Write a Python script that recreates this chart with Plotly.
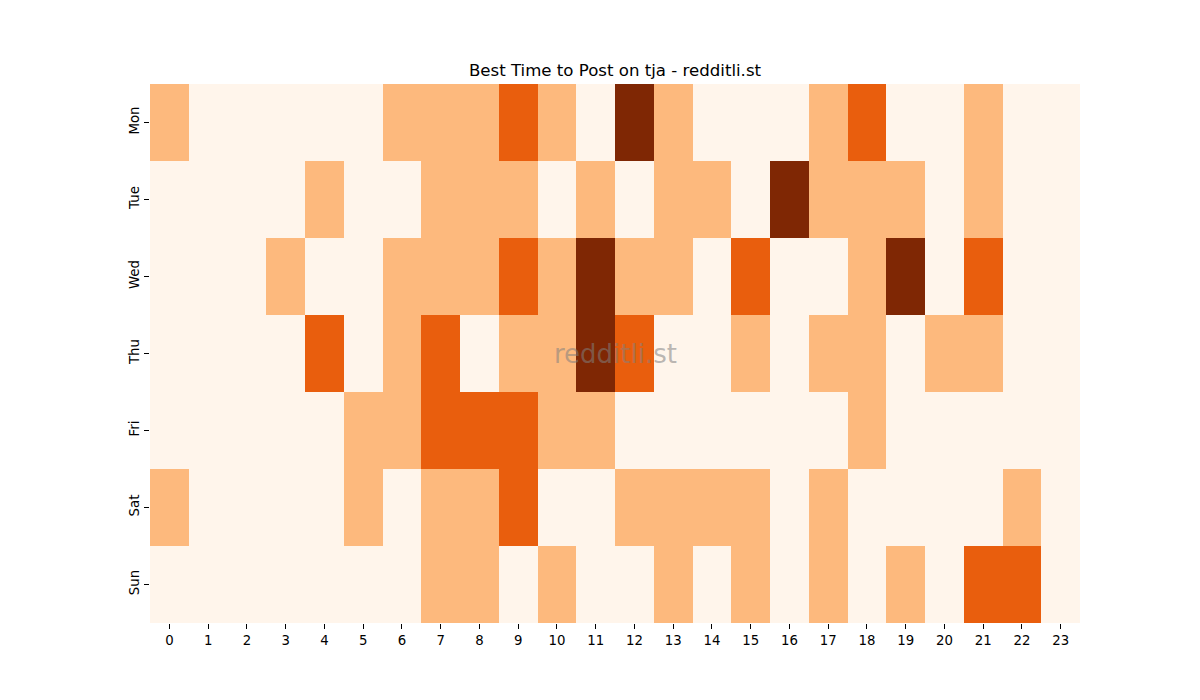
import plotly.graph_objects as go

days = ["Mon", "Tue", "Wed", "Thu", "Fri", "Sat", "Sun"]
hours = [str(h) for h in range(24)]

mon = [1,0,0,0,0,0,1,1,1,2,1,0,3,1,0,0,0,1,2,0,0,1,0,0]
tue = [0,0,0,0,1,0,0,1,1,1,0,1,0,1,1,0,3,1,1,1,0,1,0,0]
wed = [0,0,0,1,0,0,1,1,1,2,1,3,1,1,0,2,0,0,1,3,0,2,0,0]
thu = [0,0,0,0,2,0,1,2,0,1,1,3,2,0,0,1,0,1,1,0,1,1,0,0]
fri = [0,0,0,0,0,1,1,2,2,2,1,1,0,0,0,0,0,0,1,0,0,0,0,0]
sat = [1,0,0,0,0,1,0,1,1,2,0,0,1,1,1,1,0,1,0,0,0,0,1,0]
sun = [0,0,0,0,0,0,0,1,1,0,1,0,0,1,0,1,0,1,0,1,0,2,2,0]

z = [mon, tue, wed, thu, fri, sat, sun]

colorscale = [[0.0, "#fff5eb"], [1/3, "#fdb97d"], [2/3, "#e95e0d"], [1.0, "#7f2704"]]

fig = go.Figure(go.Heatmap(
    z=z, x=hours, y=days, colorscale=colorscale, zmin=0, zmax=3,
    showscale=False, xgap=0, ygap=0, hoverinfo="x+y+z",
))

fig.update_layout(
    width=1200, height=700,
    margin=dict(l=150, r=120, t=84, b=77),
    paper_bgcolor="white", plot_bgcolor="white",
    font=dict(family="DejaVu Sans", size=13.3, color="black"),
    title=dict(text="Best Time to Post on tja - redditli.st", x=0.5, xref="paper", xanchor="center",
               y=1 - 70/700, yanchor="middle", font=dict(size=16.6, color="black")),
    xaxis=dict(type="category", ticks="outside", ticklen=5, tickcolor="black",
               showgrid=False, zeroline=False, showline=False, tickangle=0),
    yaxis=dict(type="category", autorange="reversed", ticks="outside", ticklen=5,
               tickcolor="black", showgrid=False, zeroline=False, showline=False,
               tickangle=-90),
    annotations=[dict(text="redditli.st", x=0.5, y=0.5, xref="paper", yref="paper",
                      showarrow=False, font=dict(size=26, color="rgba(128,128,128,0.55)"))],
)

fig.write_html("out.html")
